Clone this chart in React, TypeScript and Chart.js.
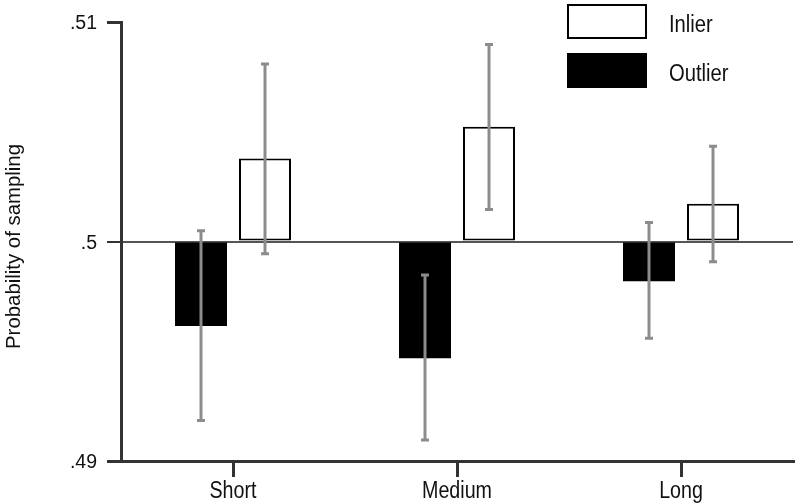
import React, { useEffect, useRef } from "react";
import { Chart, registerables } from "chart.js";

Chart.register(...registerables);

const categories = ["Short", "Medium", "Long"];
const seriesNames = ["Outlier", "Inlier"];
const outlierValues = [0.49615, 0.49468, 0.49819];
const inlierValues = [0.50378, 0.50523, 0.50172];
const outlierErrLow = [0.49184, 0.49096, 0.49559];
const outlierErrHigh = [0.50049, 0.49847, 0.50086];
const inlierErrLow = [0.49944, 0.50146, 0.49908];
const inlierErrHigh = [0.50809, 0.50898, 0.50434];
const yTicks = [0.49, 0.5, 0.51];
const yTickLabels = [".49", ".5", ".51"];
const baseValue = 0.5;
const yTitle = "Probability of sampling";

const FONT = "'Liberation Sans', Arimo, Arial, sans-serif";

function drawText(
  ctx: CanvasRenderingContext2D,
  text: string,
  x: number,
  y: number,
  size: number,
  scaleX: number,
  align: CanvasTextAlign,
  rotate = 0
) {
  ctx.save();
  ctx.translate(x, y);
  if (rotate) ctx.rotate(rotate);
  ctx.scale(scaleX, 1);
  ctx.font = `${size}px ${FONT}`;
  ctx.fillStyle = "#111";
  ctx.textAlign = align;
  ctx.textBaseline = "alphabetic";
  ctx.fillText(text, 0, 0);
  ctx.restore();
}

const errorBarPlugin = {
  id: "errorBars",
  afterDatasetsDraw(chart: any) {
    const ctx = chart.ctx;
    const y = chart.scales.y;
    const sets = [
      [outlierErrLow, outlierErrHigh],
      [inlierErrLow, inlierErrHigh],
    ];
    ctx.save();
    ctx.strokeStyle = "#8c8c8c";
    ctx.lineWidth = 3;
    sets.forEach((pair, di) => {
      const meta = chart.getDatasetMeta(di);
      meta.data.forEach((bar: any, i: number) => {
        const x = bar.x;
        const yl = y.getPixelForValue(pair[0][i]);
        const yh = y.getPixelForValue(pair[1][i]);
        ctx.beginPath();
        ctx.moveTo(x, yl);
        ctx.lineTo(x, yh);
        ctx.stroke();
        ctx.beginPath();
        ctx.moveTo(x - 4, yl);
        ctx.lineTo(x + 4, yl);
        ctx.moveTo(x - 4, yh);
        ctx.lineTo(x + 4, yh);
        ctx.stroke();
      });
    });
    ctx.restore();
  },
};

const textPlugin = {
  id: "texts",
  afterDraw(chart: any) {
    const ctx = chart.ctx;
    const xs = chart.scales.x;
    const ys = chart.scales.y;
    const area = chart.chartArea;
    // x tick labels
    categories.forEach((c, i) => {
      drawText(ctx, c, xs.getPixelForValue(i), area.bottom + 37, 23, 0.855, "center");
    });
    // y tick labels
    yTicks.forEach((v, i) => {
      const py = ys.getPixelForValue(v);
      drawText(ctx, yTickLabels[i], area.left - 24, py + 7, 19.5, 1, "right");
    });
    // y title
    drawText(ctx, yTitle, 19.5, (area.top + area.bottom) / 2 + 5, 21, 0.97, "center", -Math.PI / 2);
    // legend
    const items = [
      { label: seriesNames[1], fill: "#ffffff", border: true },
      { label: seriesNames[0], fill: "#000000", border: false },
    ];
    const bx = 567;
    items.forEach((it, k) => {
      const by = 4 + k * 49;
      ctx.save();
      ctx.fillStyle = it.fill;
      ctx.fillRect(bx, by, 80, 35);
      if (it.border) {
        ctx.strokeStyle = "#000";
        ctx.lineWidth = 2;
        ctx.strokeRect(bx + 1, by + 1, 78, 33);
      }
      ctx.restore();
      drawText(ctx, it.label, 669, by + 28, 23.5, 0.86, "left");
    });
  },
};

export default function App() {
  const ref = useRef<HTMLCanvasElement>(null);
  useEffect(() => {
    if (!ref.current) return;
    const chart = new Chart(ref.current, {
      type: "bar",
      data: {
        labels: categories,
        datasets: [
          {
            label: seriesNames[0],
            data: outlierValues,
            base: baseValue,
            backgroundColor: "#000000",
            borderWidth: 0,
          } as any,
          {
            label: seriesNames[1],
            data: inlierValues,
            base: baseValue,
            backgroundColor: "#ffffff",
            borderColor: "#000000",
            borderWidth: 2,
            borderSkipped: false,
          } as any,
        ],
      },
      options: {
        animation: false,
        responsive: false,
        maintainAspectRatio: false,
        datasets: {
          bar: { categoryPercentage: 0.5714, barPercentage: 0.8125 },
        },
        layout: { padding: { top: 19, right: 3, left: 0, bottom: 0 } },
        plugins: {
          legend: { display: false },
          tooltip: { enabled: false },
        },
        scales: {
          x: {
            grid: {
              offset: false,
              drawOnChartArea: false,
              tickLength: 16,
              lineWidth: 3,
              color: "#333",
            },
            border: { display: true, color: "#333", width: 3 },
            ticks: {
              color: "rgba(0,0,0,0)",
              font: { family: FONT, size: 20 },
              padding: 0,
              maxRotation: 0,
            },
            afterFit(scale: any) {
              scale.height = 43;
            },
          },
          y: {
            min: yTicks[0],
            max: yTicks[yTicks.length - 1],
            afterBuildTicks(scale: any) {
              scale.ticks = yTicks.map((v) => ({ value: v }));
            },
            afterFit(scale: any) {
              scale.width = 121;
            },
            grid: {
              drawOnChartArea: true,
              tickLength: 14,
              color: (c: any) =>
                c.tick && Math.abs(c.tick.value - baseValue) < 1e-9 ? "#555" : "rgba(0,0,0,0)",
              tickColor: "#333",
              lineWidth: (c: any) =>
                c.tick && Math.abs(c.tick.value - baseValue) < 1e-9 ? 2 : 3,
            },
            border: { display: true, color: "#333", width: 3 },
            ticks: {
              color: "rgba(0,0,0,0)",
              font: { family: FONT, size: 20 },
              padding: 10,
              callback: (_v: any, i: number) => yTickLabels[i],
            },
          },
        },
      },
      plugins: [errorBarPlugin, textPlugin],
    });
    return () => chart.destroy();
  }, []);
  return (
    <div style={{ position: "fixed", left: 0, top: 0, width: 796, height: 504, background: "#fff" }}>
      <canvas ref={ref} width={796} height={504} style={{ width: 796, height: 504 }} />
    </div>
  );
}
